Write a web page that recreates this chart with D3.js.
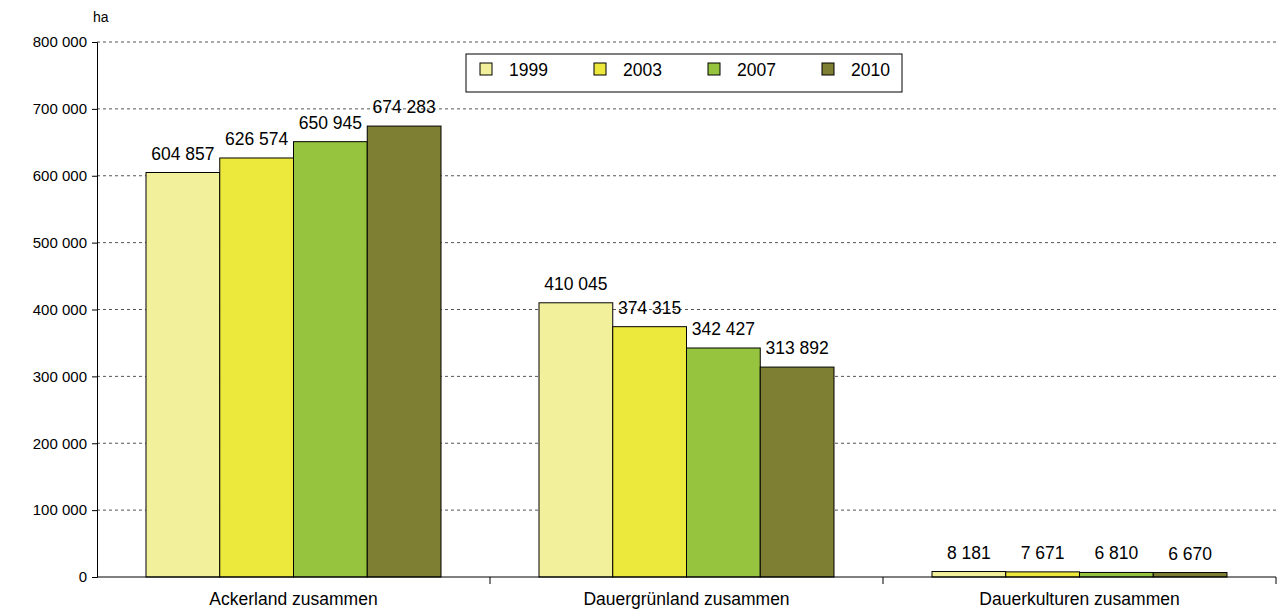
<!DOCTYPE html>
<html><head><meta charset="utf-8">
<script src="https://cdn.jsdelivr.net/npm/d3@7"></script>
<style>body{margin:0;background:#fff}text{font-family:"Liberation Sans",Arial,sans-serif}</style>
</head><body><svg id="c" width="1281" height="610"></svg>
<script>
// data
const categories = ["Ackerland zusammen", "Dauergrünland zusammen", "Dauerkulturen zusammen"];
const years = ["1999", "2003", "2007", "2010"];
const colors = ["#f3f09c", "#ece83c", "#97c43f", "#7f7f33"];
const v1999 = [604857, 410045, 8181];
const v2003 = [626574, 374315, 7671];
const v2007 = [650945, 342427, 6810];
const v2010 = [674283, 313892, 6670];
const series = [v1999, v2003, v2007, v2010];
const yTicks = [0, 100000, 200000, 300000, 400000, 500000, 600000, 700000, 800000];

const svg = d3.select("#c");
const fmt = d => d3.format(",")(d).replace(/,/g, " ");

const x = d3.scaleBand().domain(categories).range([97, 1276]);
const xi = d3.scaleBand().domain(years).range([49, x.bandwidth() - 49]);
const y = d3.scaleLinear().domain([0, 800000]).range([577, 42]);

// grid
svg.append("g").selectAll("line").data(yTicks.slice(1)).join("line")
  .attr("x1", 97).attr("x2", 1276).attr("y1", d => y(d)).attr("y2", d => y(d))
  .attr("stroke", "#555").attr("stroke-dasharray", "3,3").attr("stroke-width", 1);

// bars
categories.forEach((c, ci) => {
  const g = svg.append("g").attr("transform", `translate(${x(c)},0)`);
  series.forEach((s, si) => {
    g.append("rect").attr("x", xi(years[si])).attr("width", xi.bandwidth())
      .attr("y", y(s[ci])).attr("height", y(0) - y(s[ci]))
      .attr("fill", colors[si]).attr("stroke", "#000").attr("stroke-width", 1);
    g.append("text").attr("x", xi(years[si]) + xi.bandwidth() / 2).attr("y", y(s[ci]) - 13)
      .attr("text-anchor", "middle").attr("font-size", 17.5).text(fmt(s[ci]));
  });
});

// y axis
const ya = svg.append("g").attr("transform", "translate(97,0)")
  .call(d3.axisLeft(y).tickValues(yTicks).tickSize(5).tickFormat(fmt));
ya.select(".domain").attr("stroke", "#000");
ya.selectAll("text").attr("font-size", 15).attr("fill", "#000").attr("x", -10);
svg.append("text").attr("x", 93).attr("y", 22).attr("font-size", 14).text("ha");

// x axis
svg.append("line").attr("x1", 97).attr("x2", 1276).attr("y1", 577).attr("y2", 577).attr("stroke", "#000");
svg.append("g").selectAll("line").data(categories.map(c => x(c) + x.bandwidth())).join("line")
  .attr("x1", d => d).attr("x2", d => d).attr("y1", 577).attr("y2", 584).attr("stroke", "#000");
svg.append("g").selectAll("text").data(categories).join("text")
  .attr("x", d => x(d) + x.bandwidth() / 2).attr("y", 605).attr("text-anchor", "middle")
  .attr("font-size", 17.5).text(d => d);

// legend
const lg = svg.append("g");
lg.append("rect").attr("x", 466).attr("y", 54).attr("width", 436).attr("height", 38)
  .attr("fill", "#fff").attr("stroke", "#000");
years.forEach((yr, i) => {
  lg.append("rect").attr("x", 480 + i * 114).attr("y", 63).attr("width", 12).attr("height", 12)
    .attr("fill", colors[i]).attr("stroke", "#000");
  lg.append("text").attr("x", 509 + i * 114).attr("y", 76).attr("font-size", 17.5).text(yr);
});
</script></body></html>
